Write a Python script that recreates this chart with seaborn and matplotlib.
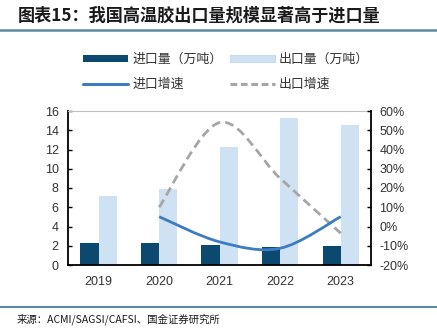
import numpy as np
import pandas as pd
import matplotlib
matplotlib.use("Agg")
import matplotlib.pyplot as plt
import seaborn as sns
from matplotlib.path import Path
from matplotlib.patches import PathPatch, Patch
from matplotlib.lines import Line2D
from matplotlib.ticker import FuncFormatter

years = ["2019", "2020", "2021", "2022", "2023"]
import_vol = [2.25, 2.32, 2.08, 1.90, 2.00]
export_vol = [7.17, 7.90, 12.26, 15.24, 14.50]
growth_years = ["2020", "2021", "2022", "2023"]
import_growth = [5.1, -8.0, -11.3, 5.1]
export_growth = [10.0, 54.0, 25.0, -3.5]

lbl_imp = "进口量（万吨）"
lbl_exp = "出口量（万吨）"
lbl_imp_g = "进口增速"
lbl_exp_g = "出口增速"

c_imp = "#0b4a6e"
c_exp = "#cfe2f3"
c_imp_g = "#3d7cc2"
c_exp_g = "#a6a6a6"

sns.set_theme(style="white")
plt.rcParams['font.family'] = ['Liberation Sans', 'Noto Sans CJK SC', 'DejaVu Sans']
cjk = ['Noto Sans CJK SC', 'DejaVu Sans']

fig = plt.figure(figsize=(4.37, 3.28), dpi=100)
ax = fig.add_axes([68.3/437, 1-265/328, (371-68.3)/437, (265-111)/328])

df = pd.DataFrame({
    "year": years * 2,
    "series": [lbl_imp]*len(years) + [lbl_exp]*len(years),
    "value": import_vol + export_vol,
})
sns.barplot(data=df, x="year", y="value", hue="series", order=years,
            hue_order=[lbl_imp, lbl_exp], palette=[c_imp, c_exp],
            width=0.6, saturation=1, ax=ax, legend=False, linewidth=0)
ax.set_xlim(-0.5, 4.5)
ax.set_ylim(0, 16)
ax.set_yticks(range(0, 17, 2))
ax.set_xlabel("")
ax.set_ylabel("")
ax.set_xticks(np.arange(len(years)))
ax.set_xticklabels(years)
ax.set_xticks(np.arange(-0.5, 5.0, 1.0), minor=True)
ax.tick_params(axis='x', which='major', length=0, labelsize=9, pad=8, colors='#333333')
ax.tick_params(axis='x', which='minor', length=4, direction='in', width=1, color='black')
ax.tick_params(axis='y', length=3, direction='in', width=1, color='black', labelsize=9, labelcolor='#333333', pad=7)
for s in ['left', 'bottom']:
    ax.spines[s].set_color('black')
    ax.spines[s].set_linewidth(1.3)
ax.spines['top'].set_color('#bfbfbf')
ax.spines['top'].set_linewidth(0.8)
ax.spines['right'].set_visible(False)

ax2 = ax.twinx()
ax2.set_ylim(-20, 60)
ax2.set_yticks(range(-20, 61, 10))
ax2.yaxis.set_major_formatter(FuncFormatter(lambda v, p: f"{int(v)}%"))
ax2.tick_params(axis='y', length=3, direction='in', width=1, color='black', labelsize=9, labelcolor='#333333', pad=6)
for s in ['left', 'bottom', 'top']:
    ax2.spines[s].set_visible(False)
ax2.spines['right'].set_color('black')
ax2.spines['right'].set_linewidth(1.3)


def smooth_path(xs, ys):
    pts = np.column_stack([xs, ys]).astype(float)
    n = len(pts)
    verts = [tuple(pts[0])]
    codes = [Path.MOVETO]
    for i in range(n - 1):
        p0 = pts[i - 1] if i > 0 else pts[i]
        p1 = pts[i]
        p2 = pts[i + 1]
        p3 = pts[i + 2] if i + 2 < n else pts[i + 1]
        c1 = p1 + (p2 - p0) / 6.0
        c2 = p2 - (p3 - p1) / 6.0
        verts += [tuple(c1), tuple(c2), tuple(p2)]
        codes += [Path.CURVE4] * 3
    return Path(verts, codes)


gx = [years.index(y) for y in growth_years]
ax2.add_patch(PathPatch(smooth_path(gx, export_growth), fill=False, edgecolor=c_exp_g,
                        linewidth=2.0, linestyle=(0, (3.2, 1.8)), capstyle='butt'))
ax2.add_patch(PathPatch(smooth_path(gx, import_growth), fill=False, edgecolor=c_imp_g,
                        linewidth=2.0))

handles = [Patch(facecolor=c_imp, edgecolor='none'),
           Line2D([], [], color=c_imp_g, linewidth=2.2),
           Patch(facecolor=c_exp, edgecolor='#b8d0e6', linewidth=0.5),
           Line2D([], [], color=c_exp_g, linewidth=2.2, linestyle=(0, (2.2, 1.2)))]
labels = [lbl_imp, lbl_imp_g, lbl_exp, lbl_exp_g]
fig.legend(handles, labels, ncol=2, loc='upper left', bbox_to_anchor=(83/437, 1-53/328),
           frameon=False, prop={'family': cjk, 'size': 9.3}, handlelength=3.5,
           handleheight=0.5, handletextpad=0.3, columnspacing=0.6, labelspacing=0.95,
           borderpad=0, borderaxespad=0, labelcolor='#333333')

fig.text(18/437, 1-16/328, "图表15：我国高温胶出口量规模显著高于进口量", family=cjk,
         fontsize=12.3, fontweight='bold', color='#1a1a1a', va='center', ha='left')
fig.add_artist(Line2D([0, 1], [1-29.5/328, 1-29.5/328], color='#5a8aa0', linewidth=1.8,
                      transform=fig.transFigure))
fig.add_artist(Line2D([0, 1], [1-306.5/328, 1-306.5/328], color='#5a8aa0', linewidth=1.5,
                      transform=fig.transFigure))
fig.text(17/437, 1-319/328, "来源：ACMI/SAGSI/CAFSI、国金证券研究所", family=cjk,
         fontsize=7.5, color='#1a1a1a', va='center', ha='left')

fig.savefig("out.png", dpi=100)
